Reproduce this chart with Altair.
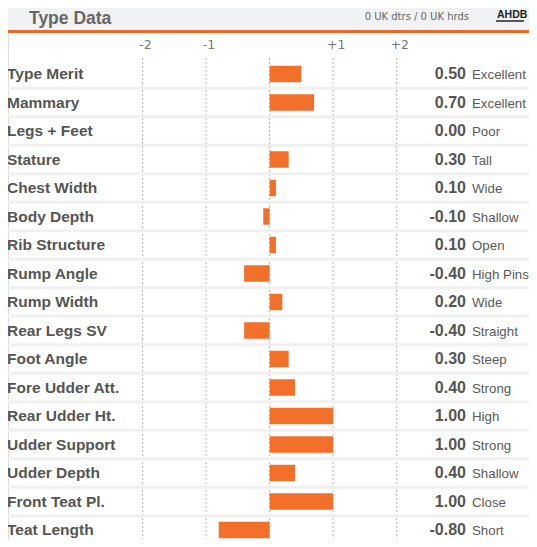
import altair as alt
import pandas as pd

traits = ["Type Merit", "Mammary", "Legs + Feet", "Stature", "Chest Width",
          "Body Depth", "Rib Structure", "Rump Angle", "Rump Width", "Rear Legs SV",
          "Foot Angle", "Fore Udder Att.", "Rear Udder Ht.", "Udder Support",
          "Udder Depth", "Front Teat Pl.", "Teat Length"]
values = [0.50, 0.70, 0.00, 0.30, 0.10, -0.10, 0.10, -0.40, 0.20, -0.40,
          0.30, 0.40, 1.00, 1.00, 0.40, 1.00, -0.80]
descriptors = ["Excellent", "Excellent", "Poor", "Tall", "Wide", "Shallow", "Open",
               "High Pins", "Wide", "Straight", "Steep", "Strong", "High", "Strong",
               "Shallow", "Close", "Short"]
tick_values = [-2, -1, 0, 1, 2]
tick_labels = ["-2", "-1", "", "+1", "+2"]

title_text = "Type Data"
sub_text = "0 UK dtrs / 0 UK hrds"
logo_text = "AHDB"

W, H = 521, 531
ORANGE = "#f2702a"

df = pd.DataFrame({
    "trait": traits,
    "value": values,
    "desc": descriptors,
    "vlabel": [f"{v:.2f}" for v in values],
})
sep_df = pd.DataFrame({"trait": traits[1:]})
tick_df = pd.DataFrame({"t": tick_values, "lab": tick_labels})
one = pd.DataFrame({"a": [0]})

xs = alt.Scale(domain=[-2, 2], range=[134.5, 388.7])
ys = alt.Scale(domain=traits, range=[51.75, 536.25], paddingInner=0, paddingOuter=0)

FONT = "Liberation Sans"

header_band = alt.Chart(one).mark_rect(color="#f1f2f3").encode(
    x=alt.value(-10), x2=alt.value(W + 10), y=alt.value(-10), y2=alt.value(22))
header_line = alt.Chart(one).mark_rect(color="#ee6a24").encode(
    x=alt.value(-10), x2=alt.value(W + 10), y=alt.value(22), y2=alt.value(25))
title = alt.Chart(one).mark_text(
    text=title_text, font=FONT, fontWeight="bold", fontSize=17.5,
    color="#666666", align="left", baseline="middle").encode(
    x=alt.value(21), y=alt.value(11))
subtitle = alt.Chart(one).mark_text(
    text=sub_text, font="DejaVu Sans", fontSize=10, color="#666666",
    align="right", baseline="middle").encode(x=alt.value(461), y=alt.value(9))
logo = alt.Chart(one).mark_text(
    text=logo_text, font=FONT, fontWeight="bold", fontSize=10.5,
    color="#222222", align="left", baseline="middle").encode(x=alt.value(489), y=alt.value(7))
logo_swoosh = alt.Chart(one).mark_rule(color="#222222", strokeWidth=1.5).encode(
    x=alt.value(488), x2=alt.value(516), y=alt.value(13))

grid = alt.Chart(tick_df).mark_rule(color="#bbbbbb", strokeDash=[2, 2], strokeWidth=1).encode(
    x=alt.X("t:Q", scale=xs, axis=None), y=alt.value(50), y2=alt.value(H))
tick_text = alt.Chart(tick_df).mark_text(
    font="DejaVu Sans", fontSize=12.5, color="#777777", baseline="middle", dx=3).encode(
    x=alt.X("t:Q", scale=xs, axis=None), y=alt.value(37), text="lab:N")

seps = alt.Chart(sep_df).mark_rule(color="#f0f0f0", strokeWidth=3).encode(
    y=alt.Y("trait:N", scale=ys, axis=None, bandPosition=0),
    x=alt.value(-10), x2=alt.value(W + 10))

bars = alt.Chart(df).mark_bar(color=ORANGE, height=16.5).encode(
    y=alt.Y("trait:N", scale=ys, axis=None),
    x=alt.X("value:Q", scale=xs, axis=None), x2=alt.datum(0))

row_labels = alt.Chart(df).mark_text(
    font=FONT, fontWeight="bold", fontSize=15.5, color="#555555",
    align="left", baseline="middle").encode(
    y=alt.Y("trait:N", scale=ys, axis=None), x=alt.value(-1), text="trait:N")

val_labels = alt.Chart(df).mark_text(
    font=FONT, fontWeight="bold", fontSize=16, color="#555555",
    align="right", baseline="middle").encode(
    y=alt.Y("trait:N", scale=ys, axis=None), x=alt.value(458), text="vlabel:N")

desc_labels = alt.Chart(df).mark_text(
    font=FONT, fontSize=13.3, color="#5a5a5a",
    align="left", baseline="middle", dy=1).encode(
    y=alt.Y("trait:N", scale=ys, axis=None), x=alt.value(464), text="desc:N")

chart = alt.layer(
    header_band, header_line, title, subtitle, logo, logo_swoosh,
    grid, seps, tick_text, bars, row_labels, val_labels, desc_labels
).properties(
    width=W, height=H, autosize=alt.AutoSizeParams(type="none"), padding=0
).configure_view(stroke=None).configure(background="white")

chart.save("out.html", embed_options={"renderer": "svg", "actions": False})
